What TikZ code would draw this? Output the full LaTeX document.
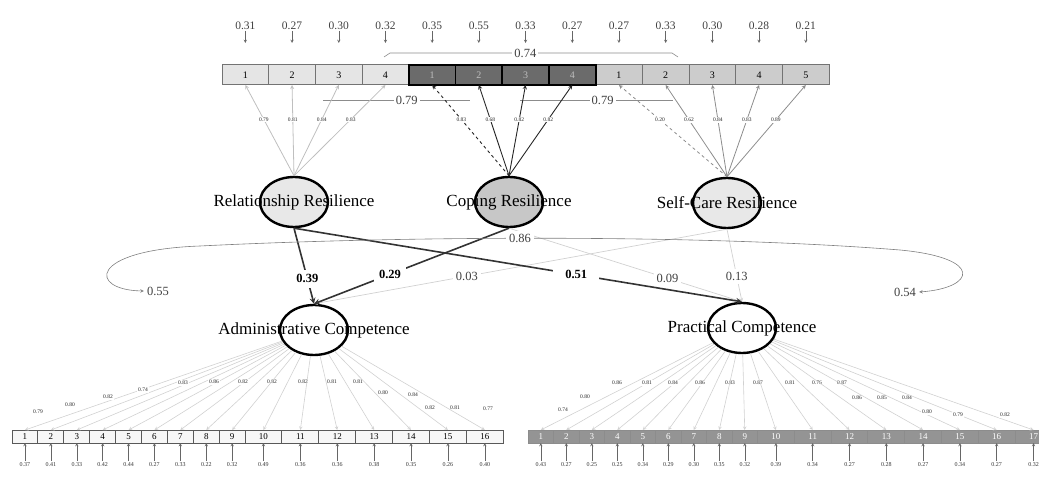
\documentclass[tikz,border=0pt]{standalone}
\usepackage{fontspec}
\setmainfont{Liberation Serif}
\usetikzlibrary{positioning,shapes.geometric}

\begin{document}
\begin{tikzpicture}[x=1pt,y=-1pt,
    mycell/.style={rectangle,draw=black!55,fill=black!10,line width=1pt,minimum width=46.7pt,minimum height=20pt,inner sep=0pt,outer sep=0pt,font=\fontsize{10}{12}\selectfont},
    mycop/.style={mycell,draw=black,fill=black!58,line width=1.8pt,text=black!25},
    myself/.style={mycell,fill=black!20},
    myadm/.style={mycell,fill=black!3,draw=black!65,minimum height=13pt,font=\fontsize{9}{10}\selectfont},
    myprac/.style={myadm,fill=black!42,draw=black!45,text=white},
    mylat/.style={ellipse,draw=black,line width=2.4pt,minimum width=68pt,minimum height=50pt,inner sep=0pt},
    myname/.style={font=\fontsize{17}{20}\selectfont},
    myres/.style={font=\fontsize{11.5}{13}\selectfont,text=black!75,inner sep=1pt},
    mysres/.style={font=\fontsize{6}{7}\selectfont,text=black!80,inner sep=1pt},
    mytiny/.style={font=\fontsize{5.5}{6}\selectfont,fill=white,text=black!85,inner sep=1pt},
    mylab/.style={font=\fontsize{12.5}{14}\selectfont,fill=white,inner sep=3pt,text=black!75},
    mybold/.style={mylab,font=\fontsize{12.5}{14}\selectfont\bfseries,text=black,inner sep=5pt},
    myarr/.style={-stealth,black!60,line width=.5pt},
    myrel/.style={-stealth,black!25,line width=.8pt},
    mycopl/.style={-stealth,black!85,line width=.9pt},
    myselfl/.style={-stealth,black!45,line width=.8pt},
    mylight/.style={-stealth,black!18,line width=.6pt},
    mystruct/.style={-stealth,black!80,line width=1.6pt},
    mythin/.style={-stealth,black!18,line width=.7pt},
    mycorr/.style={black!45,line width=.6pt}
    ]
    \useasboundingbox (0,0) rectangle (1039,478);

    % top indicators
    \foreach \i in {1,...,4}
        \node[mycell] (r\i) at ({222+46.7*\i-23.35},75) {\i};
    \foreach \i in {1,...,5}
        \node[myself] (s\i) at ({222+46.7*(\i+8)-23.35},75) {\i};
    \foreach \i in {1,...,4}
        \node[mycop] (c\i) at ({222+46.7*(\i+4)-23.35},75) {\i};

    \foreach \v [count=\i] in {0.31,0.27,0.30,0.32} {
        \node[myres, above=34pt of r\i] (er\i) {\v};
        \draw[myarr,shorten >=22pt] (er\i) -- (r\i);
    }
    \foreach \v [count=\i] in {0.35,0.55,0.33,0.27} {
        \node[myres, above=34pt of c\i] (ec\i) {\v};
        \draw[myarr,shorten >=22pt] (ec\i) -- (c\i);
    }
    \foreach \v [count=\i] in {0.27,0.33,0.30,0.28,0.21} {
        \node[myres, above=34pt of s\i] (es\i) {\v};
        \draw[myarr,shorten >=22pt] (es\i) -- (s\i);
    }

    \coordinate (k1) at (384,57);
    \coordinate (k2) at (678,57);
    \draw[mycorr] (k1) -- (390,53) -- node[mylab,pos=.48,inner sep=2pt] (m74) {0.74} (672,53) -- (k2);
    \coordinate (k3) at (323,100);
    \coordinate (k4) at (470,100);
    \draw[mycorr] (k3) -- node[mylab,pos=.57,inner sep=2pt] (m79a) {0.79} (k4);
    \coordinate (k5) at (520,100);
    \coordinate (k6) at (673,100);
    \draw[mycorr] (k5) -- node[mylab,pos=.54,inner sep=2pt] (m79b) {0.79} (k6);

    % latent variables
    \node[mylat,fill=black!9,label={[myname]center:Relationship Resilience}] (rel) at (294,202) {};
    \node[mylat,fill=black!22,label={[myname]center:Coping Resilience}] (cop) at (509,202) {};
    \node[mylat,fill=black!9,label={[myname]center:Self-Care Resilience}] (self) at (727,203) {};
    \node[mylat,fill=white,label={[myname]center:Administrative Competence}] (adm) at (314,330) {};
    \node[mylat,fill=white,label={[myname]center:Practical Competence}] (prac) at (742,328) {};

    \foreach \v [count=\i] in {0.79,0.81,0.84,0.83}
        \draw[myrel] (rel.north) -- node[mytiny,pos=.62] (lr\i) {\v} (r\i.south);
    \draw[mycopl,dashed] (cop.north) -- node[mytiny,pos=.62] (lc1) {0.83} (c1.south);
    \foreach \v [count=\i from 2] in {0.68,0.82,0.82}
        \draw[mycopl] (cop.north) -- node[mytiny,pos=.62] (lc\i) {\v} (c\i.south);
    \draw[myselfl,dashed] (self.north) -- node[mytiny,pos=.62] (ls1) {0.20} (s1.south);
    \foreach \v [count=\i from 2] in {0.62,0.84,0.83,0.89}
        \draw[myselfl] (self.north) -- node[mytiny,pos=.62] (ls\i) {\v} (s\i.south);

    % structural paths
    \draw[mythin] (self.south) -- node[mylab,pos=.63] (p03) {0.03} (adm.north);
    \draw[mythin] (cop.south) -- node[mylab,pos=.68] (p09) {0.09} (prac.north);
    \draw[mythin] (self.south) -- node[mylab,pos=.65] (p13) {0.13} (prac.north);
    \draw[mystruct] (rel.south) -- node[mybold,pos=.67] (p39) {0.39} (adm.north);
    \draw[mystruct] (cop.south) -- node[mybold,pos=.61] (p29) {0.29} (adm.north);
    \draw[mystruct] (rel.south) -- node[mybold,pos=.63,inner xsep=12pt] (p51) {0.51} (prac.north);

    \node[mylab] (e55) at (158,291) {0.55};
    \node[mylab] (e54) at (905,292) {0.54};
    \draw[stealth-stealth,black!50,line width=.6pt] (e55.west) .. controls (88,290) and (88,250) .. (200,246)
        .. controls (400,236) and (700,234) .. node[mylab,pos=.46] (p86) {0.86} (900,250)
        .. controls (985,258) and (975,288) .. (e54.east);

    % bottom indicators
    \foreach \i in {1,...,9}
        \node[myadm,minimum width=25.9pt] (a\i) at ({12+25.9*\i-12.95},436.5) {\i};
    \foreach \i in {10,...,16}
        \node[myadm,minimum width=36.9pt] (a\i) at ({245+36.9*\i-350.55},436.5) {\i};
    \foreach \i in {1,...,9}
        \node[myprac,minimum width=25.5pt] (p\i) at ({528+25.5*\i-12.75},436.5) {\i};
    \foreach \i in {10,...,17}
        \node[myprac,minimum width=36.8pt] (p\i) at ({757.5+36.8*\i-349.6},436.5) {\i};

    \foreach \v/\x/\y [count=\i] in {0.79/38/412,0.80/70/405,0.82/108/397,0.74/143/390,0.83/183/383,0.86/214/382,0.82/243/382,0.82/272/382,0.82/303/382,0.81/332/382,0.81/358/382,0.80/383/393,0.84/413/395,0.82/430/408,0.81/455/408,0.77/488/409} {
        \draw[mylight] (adm) -- (a\i.north);
        \node[mytiny] (la\i) at (\x,\y) {\v};
    }
    \foreach \v/\x/\y [count=\i] in {0.74/563/410,0.80/585/397,0.86/617/383,0.81/647/383,0.84/673/383,0.86/700/383,0.83/730/383,0.87/758/383,0.81/790/383,0.76/817/383,0.87/842/383,0.86/857/398,0.85/882/398,0.84/907/398,0.80/927/412,0.79/958/415,0.82/1005/415} {
        \draw[mylight] (prac) -- (p\i.north);
        \node[mytiny] (lp\i) at (\x,\y) {\v};
    }

    \foreach \v [count=\i] in {0.37,0.41,0.33,0.42,0.44,0.27,0.33,0.22,0.32,0.49,0.36,0.36,0.38,0.35,0.26,0.40} {
        \node[mysres, below=18pt of a\i] (ea\i) {\v};
        \draw[myarr] (ea\i) -- (a\i);
    }
    \foreach \v [count=\i] in {0.43,0.27,0.25,0.25,0.34,0.29,0.30,0.35,0.32,0.39,0.34,0.27,0.28,0.27,0.34,0.27,0.32} {
        \node[mysres, below=18pt of p\i] (ep\i) {\v};
        \draw[myarr] (ep\i) -- (p\i);
    }
\end{tikzpicture}
\end{document}
